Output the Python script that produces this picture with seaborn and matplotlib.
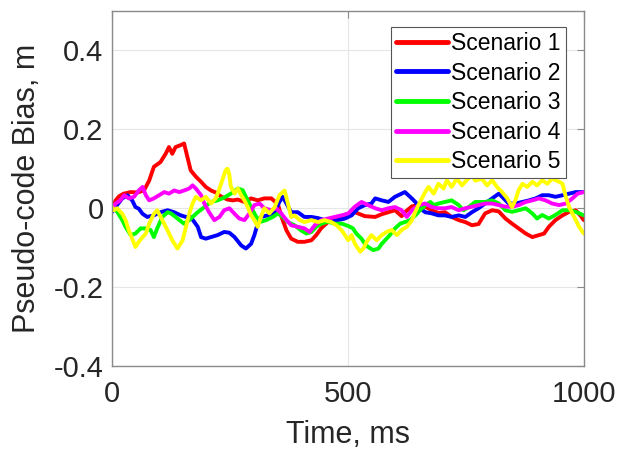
import matplotlib
matplotlib.use("Agg")
import matplotlib.pyplot as plt
import seaborn as sns
import pandas as pd

# ---- data ----
t_s1 = [0, 8, 15, 25, 40, 54, 68, 79, 89, 103, 114, 121, 128, 135, 146, 153, 160, 167, 178, 189, 199, 210,
        220, 231, 245, 256, 267, 281, 295, 309, 323, 338, 352, 359, 370, 380, 394, 408, 423, 433, 444, 458,
        472, 487, 501, 515, 536, 558, 572, 586, 600, 614, 621, 636, 650, 664, 678, 692, 706, 720, 735, 749,
        763, 777, 791, 806, 820, 834, 848, 862, 877, 891, 905, 916, 926, 940, 955, 969, 983, 994, 1000]
y_s1 = [0.0, 0.02, 0.03, 0.037, 0.041, 0.04, 0.045, 0.07, 0.105, 0.117, 0.138, 0.155, 0.138, 0.155, 0.16,
        0.164, 0.13, 0.096, 0.08, 0.067, 0.054, 0.045, 0.04, 0.03, 0.022, 0.02, 0.022, 0.016, 0.025, 0.02,
        0.025, 0.025, 0.01, -0.02, -0.056, -0.077, -0.085, -0.085, -0.081, -0.068, -0.05, -0.035, -0.03,
        -0.026, -0.018, -0.01, -0.02, -0.022, -0.015, -0.01, -0.005, -0.02, -0.01, 0.005, 0.008, 0.004,
        -0.005, -0.012, -0.01, -0.022, -0.03, -0.035, -0.043, -0.04, -0.013, -0.005, -0.008, -0.026, -0.039,
        -0.051, -0.064, -0.073, -0.068, -0.064, -0.047, -0.03, -0.018, -0.009, -0.005, -0.02, -0.03]

t_s2 = [0, 11, 22, 33, 43, 50, 57, 65, 75, 89, 103, 118, 132, 146, 157, 167, 182, 189, 199, 210, 224, 238,
        249, 260, 274, 284, 295, 302, 309, 316, 330, 345, 355, 362, 370, 380, 394, 408, 423, 437, 451, 465,
        479, 494, 508, 522, 536, 550, 558, 572, 586, 600, 614, 621, 632, 643, 653, 664, 678, 692, 706, 720,
        735, 749, 763, 777, 791, 806, 820, 827, 841, 855, 870, 884, 898, 912, 926, 940, 955, 969, 983, 1000]
y_s2 = [-0.01, 0.008, 0.025, 0.033, 0.02, 0.003, -0.001, -0.014, -0.022, -0.018, -0.01, -0.005, -0.01,
        -0.018, -0.022, -0.022, -0.047, -0.073, -0.077, -0.073, -0.068, -0.06, -0.062, -0.073, -0.094,
        -0.102, -0.09, -0.068, -0.039, -0.022, -0.018, -0.01, 0.016, 0.029, 0.012, -0.01, -0.01, -0.022,
        -0.022, -0.025, -0.03, -0.034, -0.03, -0.026, -0.018, 0.0, 0.008, 0.012, 0.025, 0.02, 0.016, 0.029,
        0.037, 0.041, 0.029, 0.016, 0.0, -0.01, -0.013, -0.018, -0.018, -0.022, -0.018, -0.022, -0.01, 0.0,
        0.012, 0.025, 0.037, 0.029, 0.012, 0.012, 0.016, 0.02, 0.025, 0.033, 0.033, 0.029, 0.033, 0.037,
        0.041, 0.041]

t_s3 = [0, 11, 22, 29, 40, 50, 61, 72, 82, 89, 96, 107, 118, 125, 135, 143, 153, 164, 171, 182, 196, 210,
        224, 238, 252, 267, 277, 284, 295, 306, 316, 327, 341, 352, 362, 373, 387, 401, 412, 423, 433, 444,
        458, 472, 487, 501, 511, 518, 529, 536, 543, 554, 565, 572, 579, 589, 600, 611, 621, 632, 643, 653,
        664, 675, 682, 692, 706, 720, 735, 745, 756, 770, 777, 791, 806, 820, 834, 848, 862, 877, 891, 901,
        912, 926, 940, 955, 969, 983, 1000]
y_s3 = [0.0, -0.008, -0.03, -0.047, -0.068, -0.064, -0.051, -0.051, -0.055, -0.073, -0.051, -0.022, -0.01,
        -0.013, -0.022, -0.03, -0.039, -0.03, -0.022, -0.01, 0.003, 0.016, 0.02, 0.027, 0.037, 0.05, 0.046,
        0.029, 0.003, -0.022, -0.034, -0.03, -0.022, -0.013, -0.022, -0.035, -0.043, -0.056, -0.064, -0.06,
        -0.047, -0.039, -0.034, -0.039, -0.039, -0.045, -0.051, -0.064, -0.077, -0.09, -0.098, -0.106,
        -0.102, -0.09, -0.081, -0.068, -0.051, -0.039, -0.035, -0.03, -0.018, -0.005, 0.008, 0.016, 0.008,
        0.012, 0.016, 0.02, 0.008, -0.005, 0.003, 0.016, 0.016, 0.016, 0.02, 0.012, -0.005, -0.009, -0.005,
        0.0, -0.013, -0.026, -0.017, -0.026, -0.017, -0.005, -0.005, -0.009, -0.018]

t_s4 = [0, 8, 18, 26, 36, 47, 57, 65, 72, 79, 89, 100, 111, 121, 132, 143, 153, 164, 171, 178, 189, 196,
        206, 217, 228, 238, 249, 260, 270, 281, 291, 302, 313, 323, 338, 348, 359, 370, 380, 394, 408, 419,
        430, 444, 458, 472, 487, 501, 515, 529, 543, 558, 572, 586, 600, 614, 625, 636, 650, 664, 678, 692,
        706, 720, 735, 749, 763, 777, 791, 806, 820, 834, 848, 862, 877, 891, 905, 919, 933, 948, 962, 976,
        987, 1000]
y_s4 = [0.0, 0.012, 0.02, 0.033, 0.025, 0.029, 0.045, 0.054, 0.033, 0.02, 0.025, 0.033, 0.041, 0.037, 0.045,
        0.041, 0.045, 0.05, 0.058, 0.05, 0.033, 0.012, -0.01, -0.03, -0.022, -0.005, 0.0, -0.014, -0.026,
        -0.03, -0.014, 0.008, 0.012, 0.0, -0.005, 0.0, -0.013, -0.03, -0.043, -0.047, -0.051, -0.06, -0.043,
        -0.03, -0.026, -0.022, -0.018, -0.013, 0.004, 0.016, 0.008, 0.0, -0.005, 0.0, 0.003, -0.005, -0.022,
        -0.005, 0.008, 0.012, 0.003, 0.0, 0.0, 0.003, -0.005, 0.0, 0.004, 0.008, 0.012, 0.012, 0.008, 0.004,
        0.004, 0.008, 0.016, 0.02, 0.025, 0.02, 0.012, 0.008, 0.012, 0.025, 0.037, 0.041]

t_s5 = [0, 4, 11, 22, 29, 36, 43, 50, 57, 65, 72, 79, 89, 96, 107, 118, 128, 139, 150, 157, 164, 171, 178,
        189, 199, 210, 220, 227, 234, 241, 245, 249, 252, 260, 267, 274, 281, 288, 295, 302, 309, 316, 323,
        334, 345, 355, 366, 373, 380, 387, 398, 408, 423, 437, 451, 465, 476, 487, 494, 501, 508, 515, 526,
        533, 540, 550, 561, 572, 582, 593, 604, 614, 625, 636, 643, 653, 664, 671, 682, 692, 703, 710, 720,
        731, 742, 752, 763, 770, 784, 795, 806, 816, 827, 838, 848, 855, 862, 870, 880, 891, 901, 912, 923,
        933, 948, 955, 962, 969, 976, 983, 990, 1000]
y_s5 = [0.003, -0.005, 0.0, -0.014, -0.03, -0.056, -0.077, -0.098, -0.085, -0.073, -0.064, -0.039, -0.014,
        -0.005, -0.03, -0.056, -0.081, -0.102, -0.081, -0.047, -0.014, 0.012, 0.029, 0.02, 0.029, 0.012,
        0.025, 0.046, 0.071, 0.096, 0.1, 0.085, 0.055, 0.037, 0.05, 0.033, 0.02, 0.003, -0.018, -0.03,
        -0.047, -0.022, 0.0, -0.013, 0.003, 0.033, 0.045, 0.012, -0.022, -0.018, -0.03, -0.035, -0.03,
        -0.035, -0.03, -0.035, -0.043, -0.056, -0.068, -0.081, -0.068, -0.09, -0.11, -0.102, -0.085,
        -0.068, -0.081, -0.068, -0.06, -0.055, -0.068, -0.055, -0.047, -0.03, -0.009, 0.016, 0.041, 0.054,
        0.037, 0.062, 0.05, 0.071, 0.054, 0.075, 0.058, 0.071, 0.084, 0.07, 0.075, 0.058, 0.071, 0.054,
        0.041, 0.025, 0.003, 0.02, 0.046, 0.062, 0.054, 0.067, 0.058, 0.071, 0.062, 0.075, 0.067, 0.062,
        0.029, 0.003, -0.013, -0.03, -0.047, -0.064]

labels = ["Scenario 1", "Scenario 2", "Scenario 3", "Scenario 4", "Scenario 5"]
colors = ["#ff0000", "#0000ff", "#00ff00", "#ff00ff", "#ffff00"]
x_ticks = [0, 500, 1000]
y_ticks = [-0.4, -0.2, 0, 0.2, 0.4]
y_tick_labels = ["-0.4", "-0.2", "0", "0.2", "0.4"]

series = [(t_s1, y_s1), (t_s2, y_s2), (t_s3, y_s3), (t_s4, y_s4), (t_s5, y_s5)]
frames = []
for lab, (tt, yy) in zip(labels, series):
    frames.append(pd.DataFrame({"t": tt, "v": yy, "Scenario": lab}))
df = pd.concat(frames, ignore_index=True)

# ---- style ----
sns.set_style("white")
plt.rcParams["font.family"] = ["Liberation Sans", "DejaVu Sans"]
txt = "#262626"

fig = plt.figure(figsize=(6.25, 4.51), dpi=100)
ax = fig.add_axes([0.179, 0.188, 0.755, 0.788])

sns.lineplot(data=df, x="t", y="v", hue="Scenario", hue_order=labels,
             palette=dict(zip(labels, colors)), estimator=None, sort=False,
             linewidth=2.8, ax=ax)

ax.set_xlim(0, 1000)
ax.set_ylim(-0.4, 0.5)
ax.set_xticks(x_ticks)
ax.set_yticks(y_ticks)
ax.set_yticklabels(y_tick_labels)
ax.grid(True, color="#e6e6e6", linewidth=0.8)
ax.set_axisbelow(True)

for sp in ax.spines.values():
    sp.set_visible(True)
    sp.set_color("#8a8a8a")
    sp.set_linewidth(1.0)

ax.tick_params(axis="both", direction="in", length=5, width=0.8, color="#8a8a8a",
               labelsize=21, labelcolor=txt, top=True, right=True)
ax.tick_params(axis="x", pad=10)
ax.tick_params(axis="y", pad=6)

ax.set_xlabel("Time, ms", fontsize=22, color=txt, labelpad=8.5)
ax.set_ylabel("Pseudo-code Bias, m", fontsize=22, color=txt, labelpad=8)

leg = ax.legend(loc="upper right", bbox_to_anchor=(0.962, 0.955), borderaxespad=0,
                fancybox=False, framealpha=1, edgecolor="#555555", fontsize=16.5,
                handlelength=2.27, handletextpad=0.13, labelspacing=0.29,
                borderpad=0.22)
leg.get_frame().set_linewidth(0.8)
for h in leg.get_lines():
    h.set_linewidth(3.5)
for t in leg.get_texts():
    t.set_color("black")

fig.savefig("out.png", dpi=100)
